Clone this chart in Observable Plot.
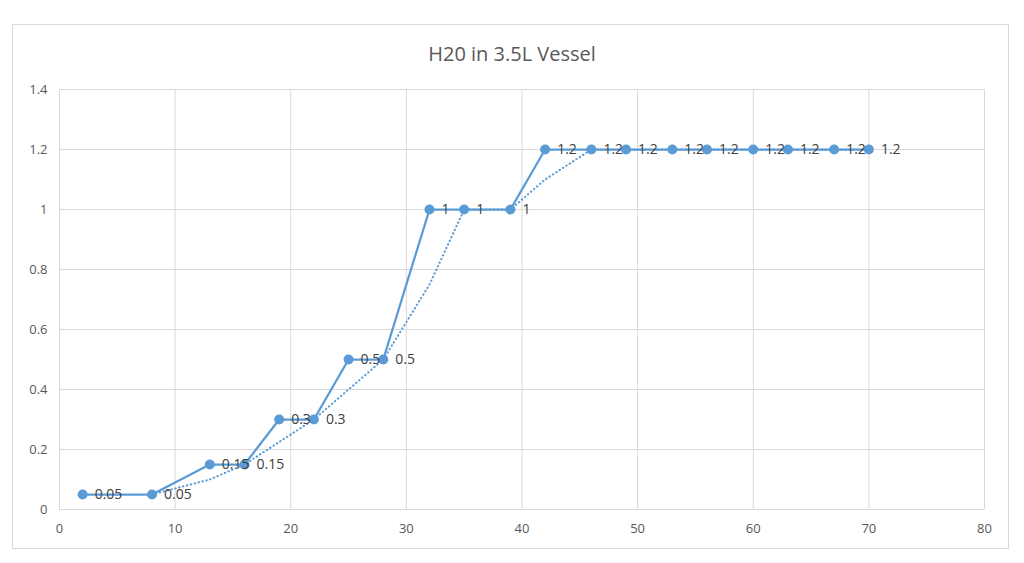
<!DOCTYPE html>
<html>
<head>
<meta charset="utf-8">
<script src="https://cdn.jsdelivr.net/npm/d3@7"></script>
<script src="https://cdn.jsdelivr.net/npm/@observablehq/plot@0.6"></script>
<style>
  html, body { margin: 0; padding: 0; background: #fff; }
  #wrap { position: relative; width: 1024px; height: 563px; overflow: hidden; font-family: "Open Sans", "Noto Sans", sans-serif; }
  #frame { position: absolute; left: 12px; top: 24px; width: 997px; height: 525px; border: 1px solid #d9d9d9; box-sizing: border-box; }
  #title { position: absolute; left: 0; width: 1024px; top: 40px; text-align: center; font-size: 20px; color: #595959; }
  #chart { position: absolute; left: 0; top: 0; }
</style>
</head>
<body>
<div id="wrap">
  <div id="frame"></div>
  <div id="title">H20 in 3.5L Vessel</div>
  <div id="chart"></div>
</div>
<script>
const xValues = [2, 8, 13, 16, 19, 22, 25, 28, 32, 35, 39, 42, 46, 49, 53, 56, 60, 63, 67, 70];
const yValues = [0.05, 0.05, 0.15, 0.15, 0.3, 0.3, 0.5, 0.5, 1, 1, 1, 1.2, 1.2, 1.2, 1.2, 1.2, 1.2, 1.2, 1.2, 1.2];
const trendX = [8, 13, 16, 19, 22, 25, 28, 32, 35, 39, 42, 46, 49, 53, 56, 60, 63, 67, 70];
const trendY = [0.05, 0.1, 0.15, 0.225, 0.3, 0.4, 0.5, 0.75, 1, 1, 1.1, 1.2, 1.2, 1.2, 1.2, 1.2, 1.2, 1.2, 1.2];
const xTicks = [0, 10, 20, 30, 40, 50, 60, 70, 80];
const yTicks = [0, 0.2, 0.4, 0.6, 0.8, 1, 1.2, 1.4];

const points = xValues.map((x, i) => ({x, y: yValues[i]}));
const trend = trendX.map((x, i) => ({x, y: trendY[i]}));
const blue = "#5b9bd5";
const fmt = d => String(d);

const chart = Plot.plot({
  width: 1024,
  height: 563,
  marginLeft: 59,
  marginRight: 40,
  marginTop: 89,
  marginBottom: 54,
  style: {background: "transparent", fontFamily: "'Open Sans', 'Noto Sans', sans-serif", fontSize: "13px", color: "#595959"},
  x: {domain: [0, 80], ticks: xTicks, label: null, tickSize: 0, tickPadding: 14, tickFormat: fmt},
  y: {domain: [0, 1.4], ticks: yTicks, label: null, tickSize: 0, tickPadding: 12, tickFormat: fmt},
  marks: [
    Plot.gridX(xTicks, {stroke: "#d9d9d9", strokeOpacity: 1, strokeWidth: 1}),
    Plot.gridY(yTicks, {stroke: "#d9d9d9", strokeOpacity: 1, strokeWidth: 1}),
    Plot.line(trend, {x: "x", y: "y", stroke: blue, strokeWidth: 2, strokeDasharray: "0.5,3.5", strokeLinecap: "round"}),
    Plot.line(points, {x: "x", y: "y", stroke: blue, strokeWidth: 2.25}),
    Plot.dot(points, {x: "x", y: "y", r: 5, fill: blue, stroke: "none"}),
    Plot.text(points, {x: "x", y: "y", text: d => String(d.y), textAnchor: "start", dx: 12, fill: "#404040", fontSize: 14}),
    Plot.axisX({ticks: xTicks, tickSize: 0, tickPadding: 14, fill: "#595959", fontSize: 13, label: null, tickFormat: fmt}),
    Plot.axisY({ticks: yTicks, tickSize: 0, tickPadding: 12, fill: "#595959", fontSize: 13, label: null, tickFormat: fmt})
  ]
});
document.getElementById("chart").appendChild(chart);
</script>
</body>
</html>
